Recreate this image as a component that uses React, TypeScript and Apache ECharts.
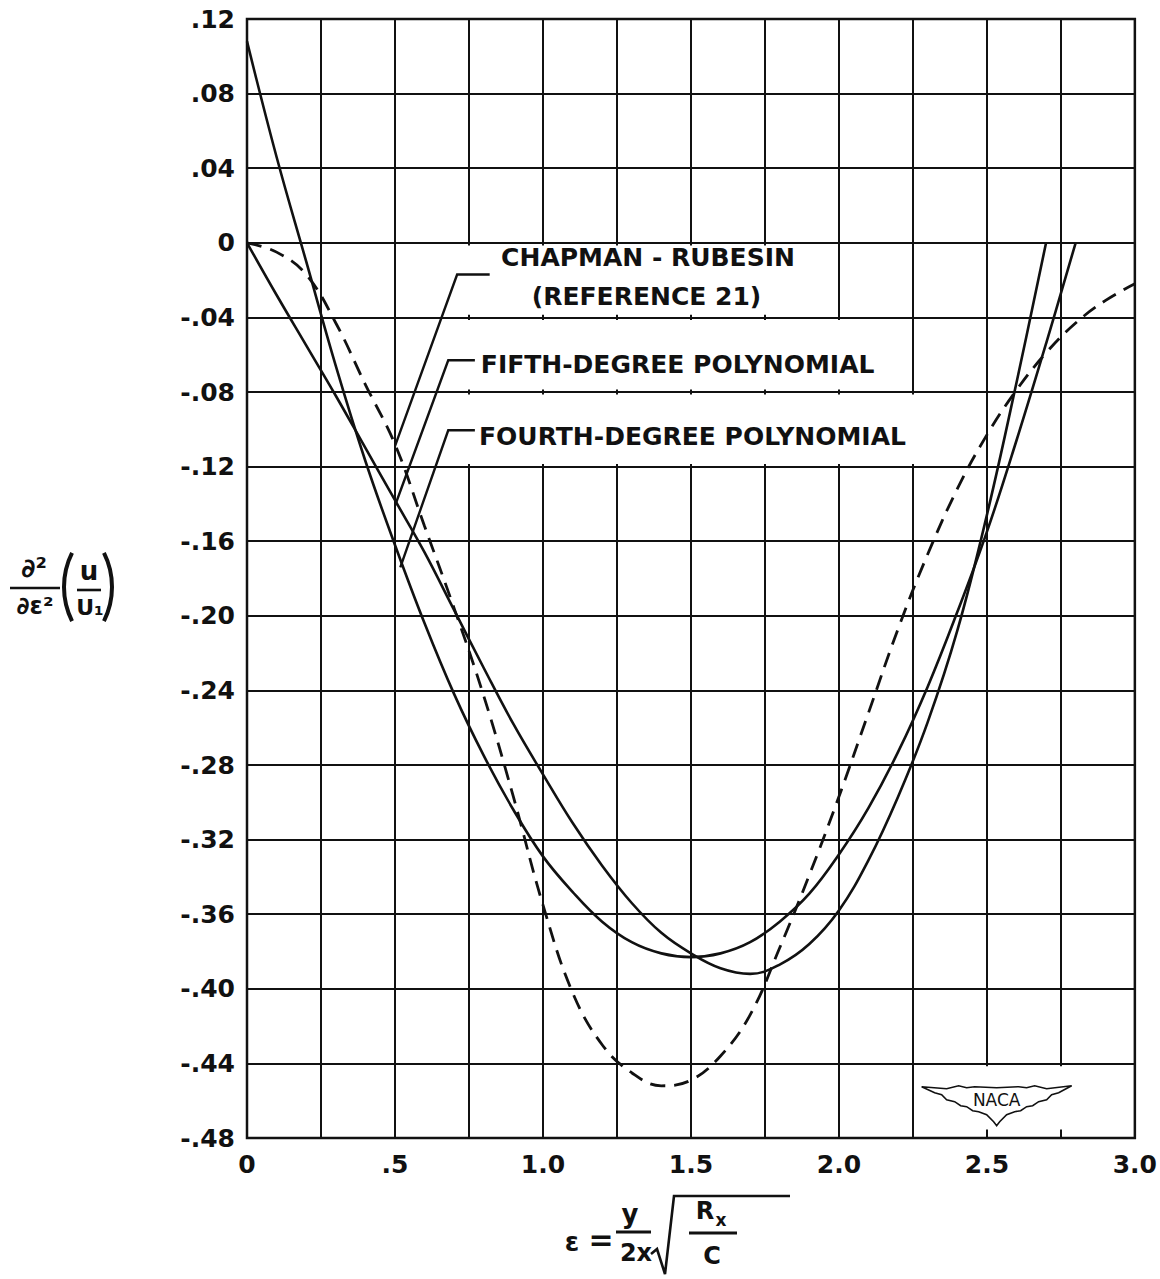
import { useEffect, useRef } from "react";
import * as echarts from "echarts";

// epsilon values (x axis)
const epsilon = [0, 0.1, 0.2, 0.3, 0.4, 0.5, 0.6, 0.7, 0.8, 0.9, 1.0, 1.1, 1.2, 1.3, 1.4, 1.5, 1.6, 1.7, 1.8, 1.9, 2.0, 2.1, 2.2, 2.3, 2.4, 2.5, 2.6, 2.7, 2.8, 2.9, 3.0];

// Chapman-Rubesin (reference 21), dashed
const chapmanRubesin = [0, -0.005, -0.017, -0.043, -0.076, -0.108, -0.152, -0.196, -0.243, -0.297, -0.355, -0.402, -0.430, -0.445, -0.452, -0.449, -0.436, -0.414, -0.378, -0.339, -0.297, -0.252, -0.207, -0.167, -0.132, -0.103, -0.079, -0.059, -0.043, -0.031, -0.022];

// Fifth-degree polynomial (0 .. 2.7)
const fifthDegree = [0, -0.028, -0.055, -0.082, -0.110, -0.138, -0.166, -0.197, -0.228, -0.258, -0.285, -0.311, -0.334, -0.354, -0.370, -0.381, -0.389, -0.392, -0.387, -0.376, -0.358, -0.331, -0.297, -0.257, -0.208, -0.146, -0.075, 0];

// Fourth-degree polynomial (0 .. 2.8)
const fourthDegree = [0.108, 0.046, -0.010, -0.066, -0.117, -0.162, -0.204, -0.242, -0.275, -0.304, -0.329, -0.348, -0.364, -0.375, -0.381, -0.383, -0.381, -0.375, -0.364, -0.349, -0.328, -0.303, -0.273, -0.238, -0.198, -0.155, -0.106, -0.054, 0];

const labelChapman1 = "CHAPMAN - RUBESIN";
const labelChapman2 = "(REFERENCE 21)";
const labelFifth = "FIFTH-DEGREE POLYNOMIAL";
const labelFourth = "FOURTH-DEGREE POLYNOMIAL";

const INK = "#111";
const FONT = "DejaVu Sans";

const zip = (xs: number[], ys: number[]) => ys.map((y, i) => [xs[i], y]);

function fmtY(v: number) {
  const r = Math.round(v * 100);
  if (r === 0) return "0";
  const s = r < 0 ? "-" : "";
  return s + "." + String(Math.abs(r)).padStart(2, "0");
}
function fmtX(v: number) {
  const r = Math.round(v * 100);
  if (r % 50 !== 0) return "";
  if (r === 0) return "0";
  if (r === 50) return ".5";
  return (r / 100).toFixed(1);
}

function txt(x: number, y: number, text: string, size: number, opts: any = {}) {
  return {
    type: "text",
    x,
    y,
    z: 20,
    style: {
      text,
      fontSize: size,
      fontFamily: FONT,
      fontWeight: opts.weight || "bold",
      fill: INK,
      align: opts.align || "center",
      verticalAlign: "middle",
      textAlign: opts.align || "center",
      textVerticalAlign: "middle",
    },
  };
}
function seg(x1: number, y1: number, x2: number, y2: number, w = 2.4) {
  return { type: "line", z: 20, shape: { x1, y1, x2, y2 }, style: { stroke: INK, lineWidth: w } };
}
function paren(cx: number, cy: number, r: number, start: number, end: number) {
  return {
    type: "arc", z: 20,
    shape: { cx, cy, r, startAngle: (start * Math.PI) / 180, endAngle: (end * Math.PI) / 180, clockwise: true },
    style: { stroke: INK, lineWidth: 4, fill: null },
  };
}

export default function App() {
  const ref = useRef<HTMLDivElement>(null);
  useEffect(() => {
    if (!ref.current) return;
    const chart = echarts.init(ref.current, null, { renderer: "svg" });
    const axisLabelStyle = { color: INK, fontSize: 25, fontWeight: "bold", fontFamily: FONT };
    chart.setOption({
      animation: false,
      backgroundColor: "#fff",
      grid: { left: 247, top: 19, width: 892, height: 1119, show: true, borderColor: INK, borderWidth: 2.5 },
      xAxis: {
        type: "value", min: 0, max: 3, interval: 0.25,
        axisLine: { show: false }, axisTick: { show: false },
        splitLine: { show: true, lineStyle: { color: INK, width: 2 } },
        axisLabel: { ...axisLabelStyle, margin: 14, formatter: fmtX, showMinLabel: true, showMaxLabel: true },
      },
      yAxis: {
        type: "value", min: -0.48, max: 0.12, interval: 0.04,
        axisLine: { show: false }, axisTick: { show: false },
        splitLine: { show: true, lineStyle: { color: INK, width: 2 } },
        axisLabel: { ...axisLabelStyle, margin: 12, formatter: fmtY, showMinLabel: true, showMaxLabel: true },
      },
      series: [
        { name: "Chapman-Rubesin (reference 21)", type: "line", data: zip(epsilon, chapmanRubesin), smooth: 0.4, showSymbol: false, z: 5,
          lineStyle: { color: INK, width: 2.8, type: [15, 9] } },
        { name: "Fifth-degree polynomial", type: "line", data: zip(epsilon, fifthDegree), smooth: 0.4, showSymbol: false, z: 5,
          lineStyle: { color: INK, width: 2.6 } },
        { name: "Fourth-degree polynomial", type: "line", data: zip(epsilon, fourthDegree), smooth: 0.4, showSymbol: false, z: 5,
          lineStyle: { color: INK, width: 2.6 } },
      ],
    });

    const p = (x: number, y: number) => chart.convertToPixel({ gridIndex: 0 }, [x, y]) as number[];
    const box = (x0: number, y0: number, x1: number, y1: number) => {
      const a = p(x0, y0), b = p(x1, y1);
      return { type: "rect", z: 1, shape: { x: a[0], y: a[1], width: b[0] - a[0], height: b[1] - a[1] }, style: { fill: "#fff" } };
    };
    const poly = (pts: number[][], w = 2.4) => ({ type: "polyline", z: 20, shape: { points: pts }, style: { stroke: INK, lineWidth: w, fill: null } });

    const els: any[] = [];
    // white label boxes
    els.push(box(0.6, -0.0014, 1.92, -0.0386));
    els.push(box(0.6, -0.0414, 2.22, -0.0786));
    els.push(box(0.6, -0.0814, 2.42, -0.1186));
    els.push(box(2.26, -0.4415, 2.99, -0.4755));

    // leaders
    els.push(poly([p(0.82, -0.017), p(0.71, -0.017), p(0.5, -0.109)]));
    els.push(poly([p(0.77, -0.063), p(0.68, -0.063), p(0.5, -0.141)]));
    els.push(poly([p(0.77, -0.1005), p(0.68, -0.1005), p(0.518, -0.174)]));

    // labels
    const c1 = p(1.355, -0.008), c2 = p(1.35, -0.029);
    els.push(txt(c1[0], c1[1], labelChapman1, 25));
    els.push(txt(c2[0], c2[1], labelChapman2, 25));
    const f5 = p(0.79, -0.065);
    els.push(txt(f5[0], f5[1], labelFifth, 25, { align: "left" }));
    const f4 = p(0.784, -0.104);
    els.push(txt(f4[0], f4[1], labelFourth, 25, { align: "left" }));

    // NACA logo
    const lc = p(2.533, -0.46);
    const cx = lc[0], cy = lc[1];
    const wing = [
      [-75, -14], [-50, -12], [-38, -15], [-30, -13], [-22, -14], [0, -13], [22, -14], [30, -13], [38, -15], [50, -12], [75, -15],
      [62, -8], [55, -6], [50, -1], [42, 1], [36, 5], [30, 6], [24, 10], [18, 11], [10, 14], [3, 21], [0, 25], [-3, 21], [-10, 14],
      [-18, 11], [-24, 10], [-30, 6], [-36, 5], [-42, 1], [-50, -1], [-55, -6], [-62, -8],
    ].map(([dx, dy]) => [cx + dx, cy + dy]);
    els.push({ type: "polygon", z: 20, shape: { points: wing }, style: { fill: "#fff", stroke: INK, lineWidth: 1.6 } });
    els.push(txt(cx, cy - 1, "NACA", 17, { weight: "normal" }));

    // y-axis title: d2/de2 (u/U1)
    els.push(txt(34, 568, "∂²", 26));
    els.push(seg(10, 588, 60, 588, 2.6));
    els.push(txt(35, 606, "∂ε²", 24));
    els.push(paren(140, 587, 76, 153.4, 206.6));
    els.push(txt(89, 571, "u", 26));
    els.push(seg(77, 590, 101, 590, 2.6));
    els.push(txt(90, 607, "U₁", 22));
    els.push(paren(36, 587, 76, -26.6, 26.6));

    // x-axis title: eps = y/(2x) sqrt(Rx/C)
    els.push(txt(572, 1242, "ε", 26));
    els.push(txt(601, 1239, "=", 30));
    els.push(txt(630, 1214, "y", 26));
    els.push(seg(616, 1232, 651, 1232, 2.8));
    els.push(txt(636, 1253, "2x", 24));
    els.push(poly([[651, 1254], [657, 1249], [665, 1274], [674, 1196], [790, 1196]], 2.6));
    els.push(txt(705, 1211, "R", 24));
    els.push(txt(721, 1220, "x", 17));
    els.push(seg(689, 1233, 737, 1233, 2.8));
    els.push(txt(712, 1256, "C", 24));

    chart.setOption({ graphic: { elements: els } });
    return () => chart.dispose();
  }, []);
  return <div ref={ref} style={{ position: "absolute", left: 0, top: 0, width: 1160, height: 1279 }} />;
}
